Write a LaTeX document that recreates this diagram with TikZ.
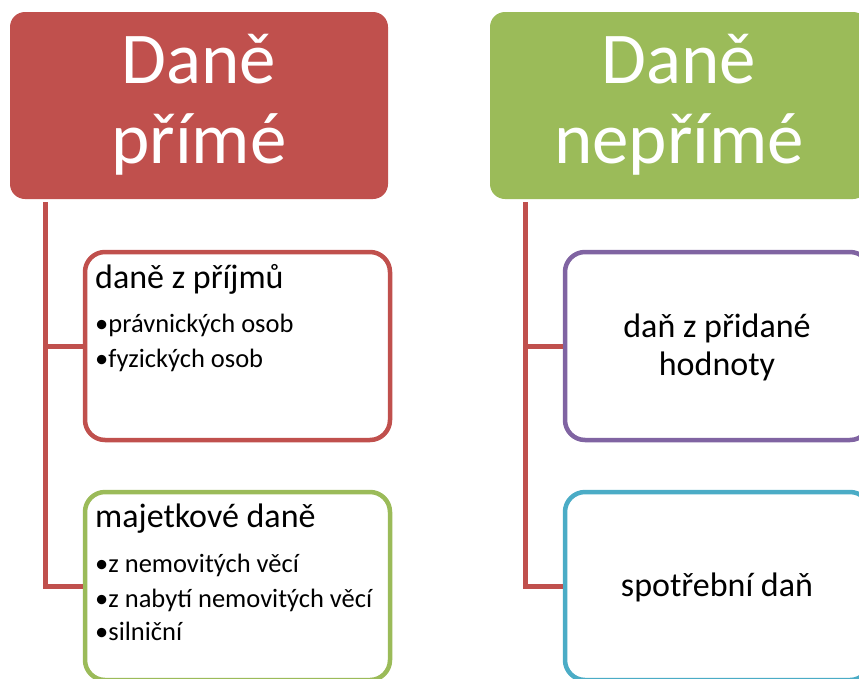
\documentclass[tikz,border=0pt]{standalone}
\usepackage{fontspec}
\setmainfont{Carlito}
\definecolor{taxred}{HTML}{C0504D}
\definecolor{taxgreen}{HTML}{9BBB59}
\definecolor{taxpurple}{HTML}{8064A2}
\definecolor{taxcyan}{HTML}{4BACC6}
\tikzset{
  hdr/.style={rounded corners=15pt, minimum width=378pt, minimum height=187pt, inner sep=0pt, draw=none},
  hdrtext/.style={anchor=base, inner sep=0pt, text=white, font=\fontsize{73}{80}\selectfont},
  itembox/.style={rounded corners=20pt, line width=4.5pt, fill=white, minimum width=305pt, minimum height=188pt, inner sep=0pt},
  titletext/.style={anchor=base west, inner sep=0pt, font=\fontsize{34}{38}\selectfont},
  bullettext/.style={anchor=base west, inner sep=0pt, font=\fontsize{26.5}{30}\selectfont},
  centertext/.style={anchor=base, inner sep=0pt, font=\fontsize{34}{38}\selectfont},
  link/.style={draw=taxred, line width=5pt}
}
\begin{document}
\begin{tikzpicture}[x=1pt, y=-1pt]
\useasboundingbox (0,0) rectangle (859,678);
\clip (0,0) rectangle (859,678);

% header blocks
\node[hdr, fill=taxred] (direct) at (199,105.5) {};
\node[hdr, fill=taxgreen] (indirect) at (679,105.5) {};
\node[hdrtext] (directA) at (199,83) {Daně};
\node[hdrtext] (directB) at (199,163) {přímé};
\node[hdrtext] (indirectA) at (679,83) {Daně};
\node[hdrtext] (indirectB) at (679,163) {nepřímé};

% child boxes
\node[itembox, draw=taxred] (income) at (237.5,346) {};
\node[itembox, draw=taxgreen] (property) at (237.5,586) {};
\node[itembox, draw=taxpurple] (vat) at (717.5,346) {};
\node[itembox, draw=taxcyan] (excise) at (717.5,586) {};

% tree connectors
\coordinate (ltop) at (45.5,202);
\coordinate (rtop) at (525,202);
\draw[link] (ltop) |- (property.west);
\draw[link] (ltop |- income.west) -- (income.west);
\draw[link] (rtop) |- (excise.west);
\draw[link] (rtop |- vat.west) -- (vat.west);

% box contents
\node[titletext] (incomeT) at (95,288) {daně z příjmů};
\node[bullettext] (incomeA) at (95,332) {•právnických osob};
\node[bullettext] (incomeB) at (95,367) {•fyzických osob};

\node[titletext] (propertyT) at (95,527) {majetkové daně};
\node[bullettext] (propertyA) at (95,572) {•z nemovitých věcí};
\node[bullettext] (propertyB) at (95,607) {•z nabytí nemovitých věcí};
\node[bullettext] (propertyC) at (95,640) {•silniční};

\node[centertext] (vatA) at (717,337) {daň z přidané};
\node[centertext] (vatB) at (717,375) {hodnoty};
\node[centertext] (exciseT) at (717,596) {spotřební daň};
\end{tikzpicture}
\end{document}
